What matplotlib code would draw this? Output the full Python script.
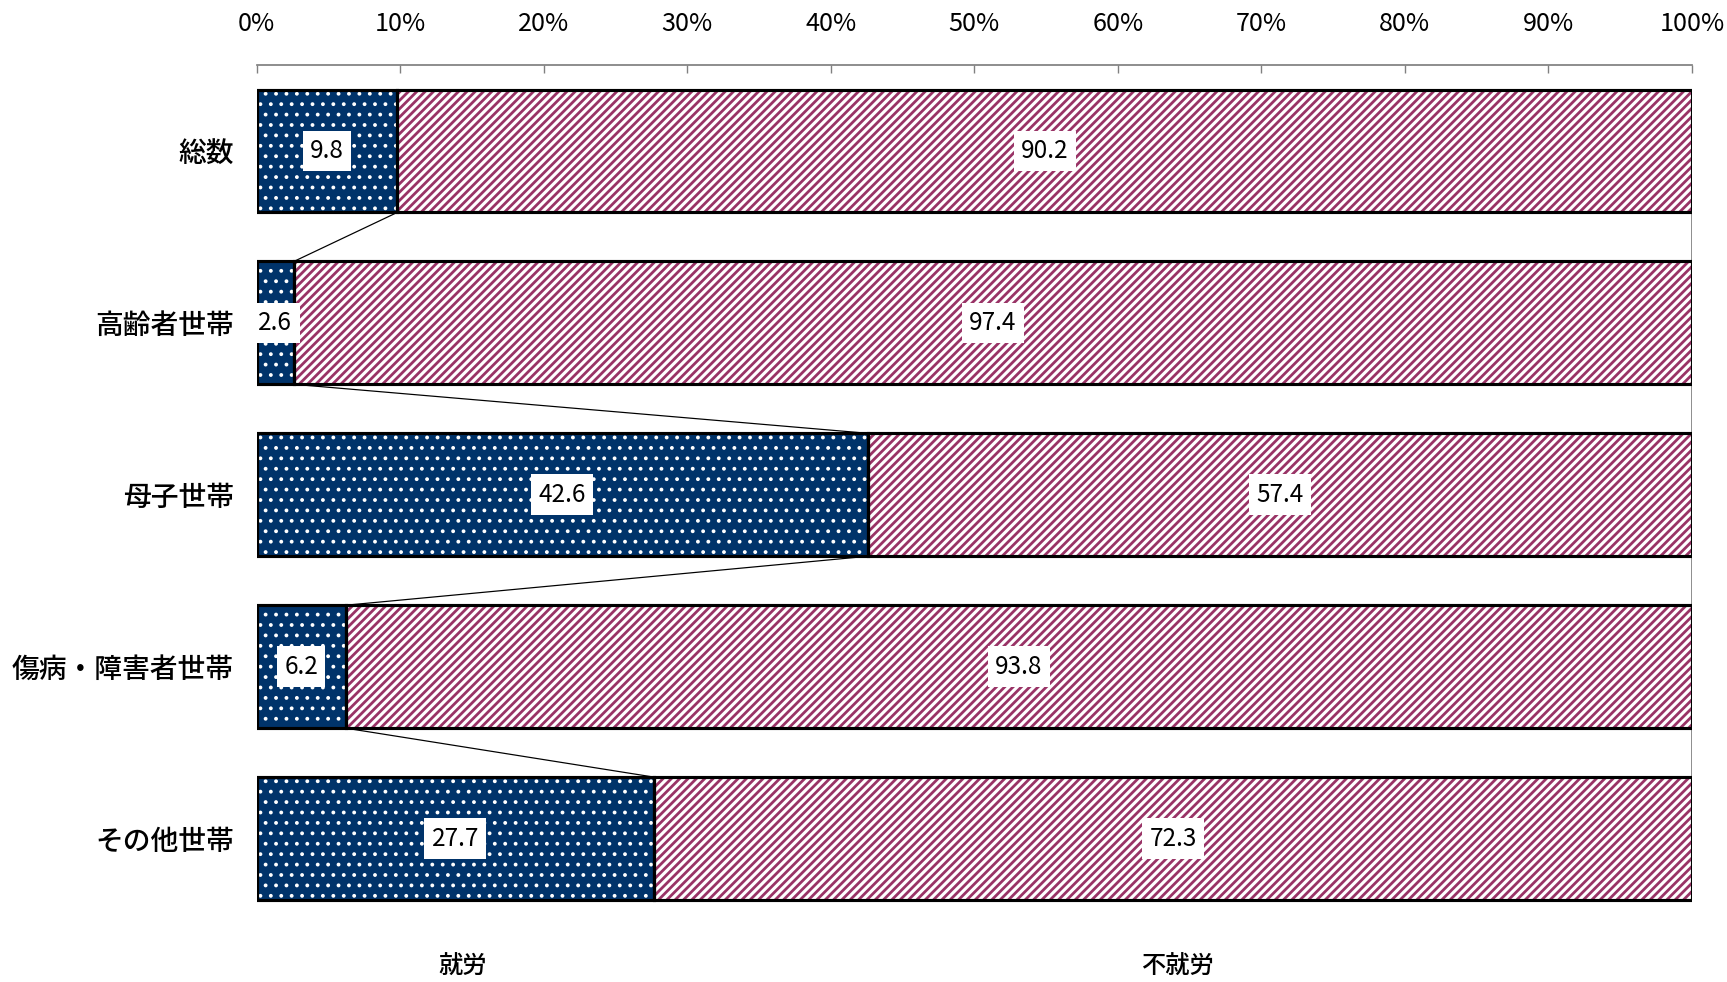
import numpy as np
import matplotlib
matplotlib.use('Agg')
import matplotlib.pyplot as plt

plt.rcParams['font.family'] = ['Noto Sans CJK JP', 'DejaVu Sans']

categories = ['総数', '高齢者世帯', '母子世帯', '傷病・障害者世帯', 'その他世帯']
working = [9.8, 2.6, 42.6, 6.2, 27.7]
not_working = [90.2, 97.4, 57.4, 93.8, 72.3]
series_names = ['就労', '不就労']
tick_values = np.arange(0, 101, 10)
tick_labels = ['%d%%' % t for t in tick_values]

navy = '#00336a'
maroon = '#993366'
h = 0.715

fig = plt.figure(figsize=(1727 / 125, 982 / 125), dpi=125)
ax = fig.add_axes([0.1486, 0.0585, 0.8311, 0.8753])
y = np.arange(len(categories))

# fills (hatch colour comes from edgecolor, so outlines are drawn separately)
plt.rcParams['hatch.linewidth'] = 1.0
ax.barh(y, working, height=h, color=navy, edgecolor='white', hatch='..', linewidth=0)
plt.rcParams['hatch.linewidth'] = 1.6
ax.barh(y, not_working, left=working, height=h, color='white', edgecolor=maroon,
        hatch='/////', linewidth=0)
ax.barh(y, working, height=h, fill=False, edgecolor='black', linewidth=1.8)
ax.barh(y, not_working, left=working, height=h, fill=False, edgecolor='black', linewidth=1.8)

# connector lines between consecutive bars
for i in range(len(categories) - 1):
    ax.plot([working[i], working[i + 1]], [i + h / 2, i + 1 - h / 2],
            color='black', linewidth=0.7)

ax.plot([100, 100], [-h / 2, len(categories) - 1 + h / 2], color='#808080',
        linewidth=1.0, zorder=0)

box = dict(boxstyle='square,pad=0.3', facecolor='white', edgecolor='none')
for i in range(len(categories)):
    ax.text(working[i] / 2, i, '%.1f' % working[i], ha='center', va='center',
            fontsize=14, bbox=box)
    ax.text(working[i] + not_working[i] / 2, i, '%.1f' % not_working[i],
            ha='center', va='center', fontsize=14, bbox=box)

ax.set_xlim(0, 100)
ax.set_ylim(len(categories) - 0.5, -0.5)
ax.set_yticks(y)
ax.set_yticklabels(categories, fontsize=16, fontweight='medium')
ax.tick_params(axis='y', length=0, pad=13)
ax.xaxis.tick_top()
ax.set_xticks(tick_values)
ax.set_xticklabels(tick_labels, fontsize=14.5)
ax.tick_params(axis='x', direction='in', length=4.6, color='#808080', pad=16)
for s in ['left', 'right', 'bottom']:
    ax.spines[s].set_visible(False)
ax.spines['top'].set_color('#808080')
ax.spines['top'].set_linewidth(1.0)

fig.text(0.268, 0.0153, series_names[0], ha='center', va='center', fontsize=14,
         fontweight='medium')
fig.text(0.6815, 0.0153, series_names[1], ha='center', va='center', fontsize=14,
         fontweight='medium')

fig.savefig('out.png', dpi=125)
